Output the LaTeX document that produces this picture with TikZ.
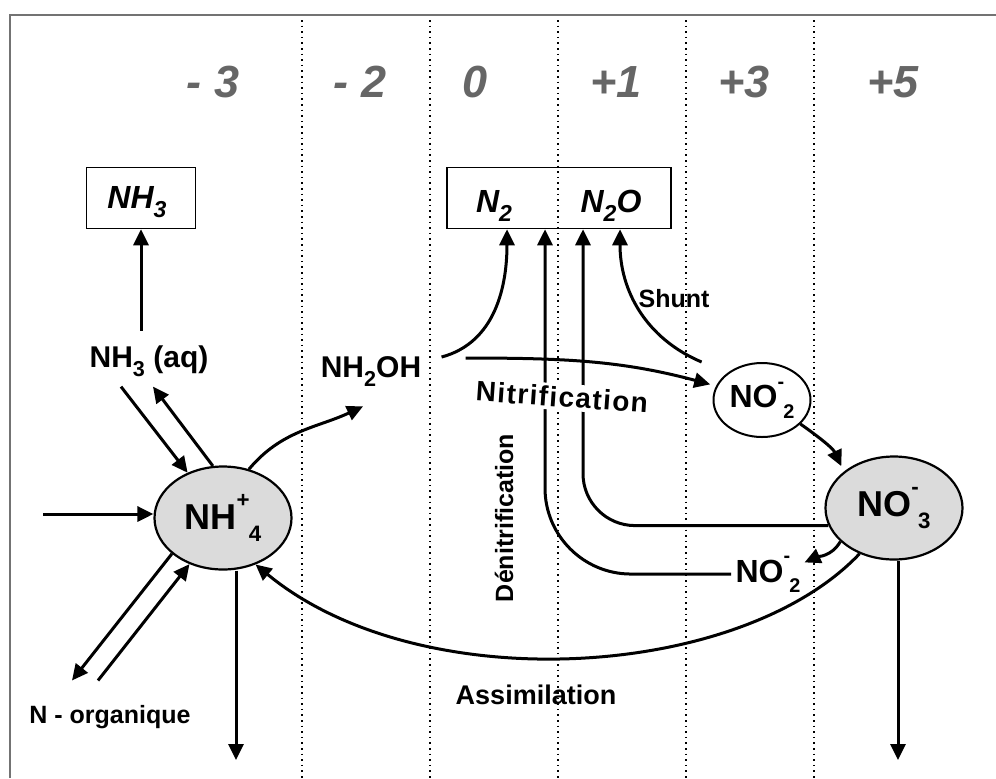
\documentclass[tikz,border=0pt]{standalone}
\usepackage{fontspec}
\setmainfont{Liberation Sans}
\usetikzlibrary{arrows.meta, shapes.geometric}

% ion with charge above and index below
\newcommand{\chemion}[3]{#1\raisebox{.62em}{\scalebox{.62}{#2}}\kern-.02em\raisebox{-.32em}{\scalebox{.62}{#3}}}
\newcommand{\chemsub}[1]{\raisebox{-.3em}{\scalebox{.72}{#1}}}

\begin{document}
\begin{tikzpicture}[x=0.5pt, y=-0.5pt,
    flux/.style={line width=1.5pt, -{Triangle[length=8pt,width=7.5pt]}},
    zone/.style={dotted, line width=0.8pt},
    degree/.style={anchor=base, text=black!60, font=\fontsize{22.5}{26}\selectfont\bfseries\itshape},
    gasbox/.style={draw, line width=0.8pt, minimum height=30.5pt, inner sep=0pt},
    gas/.style={anchor=base, font=\fontsize{16}{19}\selectfont\bfseries\itshape},
    species/.style={anchor=base, inner sep=2pt, font=\fontsize{15}{17}\selectfont\bfseries},
    pool/.style={ellipse, draw, line width=1.1pt, fill=black!14, minimum width=68.5pt,
        minimum height=51.5pt, inner sep=0pt, font=\fontsize{18}{20}\selectfont\bfseries},
    nitrite/.style={ellipse, draw, line width=1pt, minimum width=48.5pt,
        minimum height=37pt, inner sep=0pt, font=\fontsize{16}{18}\selectfont\bfseries},
    process/.style={inner sep=1.5pt, font=\fontsize{12.5}{15}\selectfont\bfseries}]

    \useasboundingbox (0,0) rectangle (996,778);

    % frame and oxidation zones
    \draw[black!55, line width=1.2pt] (10,778) -- (10,15) -- (996,15);
    \foreach \x in {302,430,558,686,814}
        \draw[zone] (\x,20) -- (\x,778);
    \foreach \x/\v [count=\i] in {213/- 3, 360/- 2, 475/0, 616/+1, 744/+3, 893/+5}
        \node[degree] (ox\i) at (\x,97) {\v};

    % gases
    \node[gasbox, minimum width=54.5pt] (nh3box) at (141,198) {};
    \node[gas] (nh3) at (137,208) {NH\chemsub{3}};
    \node[gasbox, minimum width=112pt] (gasbox) at (559,198) {};
    \node[gas] (n2) at (494,212) {N\chemsub{2}};
    \node[gas] (n2o) at (611,212) {N\chemsub{2}O};

    % nitrogen pools
    \node[species] (nh3aq) at (149,367) {NH\chemsub{3} (aq)};
    \node[species] (nh2oh) at (371,377) {NH\chemsub{2}OH};
    \node[pool] (nh4) at (223,518) {\chemion{NH}{+}{4}};
    \node[pool] (no3) at (894,508) {\chemion{NO}{-}{3}};
    \node[nitrite] (no2a) at (762,400) {\chemion{NO}{-}{2}};
    \node[species, font=\fontsize{16}{18}\selectfont\bfseries] (no2b) at (768,582) {\chemion{NO}{-}{2}};
    \node[species, font=\fontsize{12.5}{15}\selectfont\bfseries] (norg) at (110,723) {N - organique};

    \coordinate (inflow) at (43,514);
    \coordinate (nh4out) at (236,760);
    \coordinate (no3out) at (898,760);

    % ammonium side
    \draw[flux] (nh3aq.north -| nh3box.south) ++(0,-10) -- (nh3box.south);
    \draw[flux] ([xshift=-14pt,yshift=-3pt]nh3aq.south) -- (nh4.128);
    \draw[flux] (nh4.101) -- ([xshift=2pt,yshift=-3pt]nh3aq.south);
    \draw[flux] (inflow) -- (inflow -| nh4.west);
    \draw[flux] (nh4.215) -- ([xshift=-19pt,yshift=10pt]norg.north);
    \draw[flux] ([xshift=-6pt,yshift=10pt]norg.north) -- (nh4.234);
    \draw[flux] (nh4out |- nh4.south) -- (nh4out);

    % nitrification
    \draw[flux] (nh4.62) to[out=50, in=205] ([xshift=-4pt,yshift=-8pt]nh2oh.south);
    \draw[flux] ([xshift=8pt,yshift=7pt]nh2oh.east) to[out=15, in=-90] ([xshift=-26pt]gasbox.south);
    \draw[flux, shorten >=3pt] ([xshift=20pt,yshift=6.5pt]nh2oh.east) to[out=0, in=165] (no2a.163);
    \draw[flux] ([shift={(-11pt,7pt)}]no2a.148) to[out=157, in=-90] ([xshift=30.5pt]gasbox.south);
    \draw[flux, shorten >=3pt] (no2a.-32) to[out=-35, in=115] (no3.144);

    % denitrification
    \draw[flux, rounded corners=26pt] (no3.195) -| ([xshift=12pt]gasbox.south);
    \draw[flux, rounded corners=43pt] (no2b.west) -| ([xshift=-7pt]gasbox.south);
    \draw[flux, shorten >=2pt] (no3.212) to[out=240, in=24] ([xshift=-2pt,yshift=5pt]no2b.east);

    % assimilation and losses
    \draw[flux] (no3.233) .. controls (740,680) and (420,700) .. (nh4.-55);
    \draw[flux] (no3out |- no3.south) -- (no3out);

    \node[process, anchor=base] (shunt) at (674,307) {Shunt};
    \node[process, fill=white, rotate=-4,
        font=\fontsize{14}{16}\selectfont\bfseries\addfontfeature{LetterSpace=5}] (nitrif) at (562,397) {Nitrification};
    \node[process, rotate=90] (denitrif) at (504,518) {Dénitrification};
    \node[process, font=\fontsize{13.5}{15}\selectfont\bfseries] (assim) at (536,695) {Assimilation};
\end{tikzpicture}
\end{document}
